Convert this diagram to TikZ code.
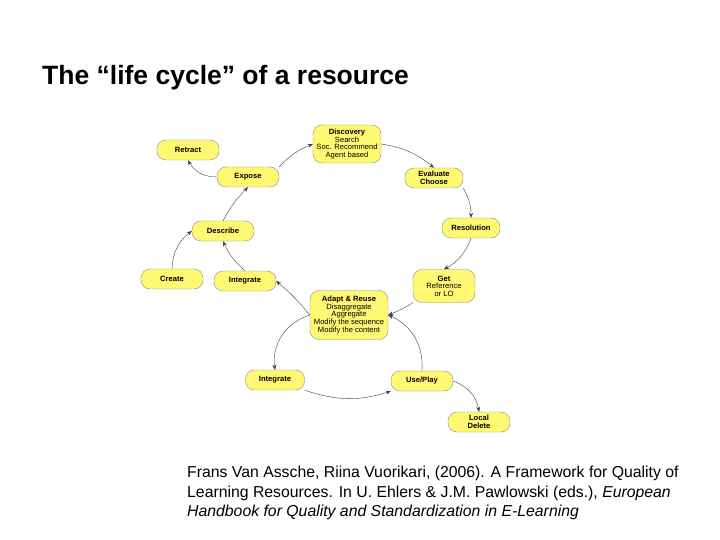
\documentclass[tikz,border=0pt]{standalone}
\usepackage{fontspec}
\setmainfont{Liberation Sans}
\usetikzlibrary{arrows.meta}
\begin{document}
\begin{tikzpicture}[x=1pt,y=-1pt,
  box/.style={draw=black!45,fill=yellow!55,rounded corners=9pt,minimum width=62pt,minimum height=20pt,inner sep=1pt,align=center,font=\fontsize{7.6}{7.6}\selectfont\bfseries},
  sub/.style={font=\fontsize{7.3}{7.3}\selectfont},
  conn/.style={-{Stealth[length=5pt,width=4pt]},black!75,thin}]
\useasboundingbox (0,0) rectangle (720,540);
\fill[white] (0,0) rectangle (720,540);
\node[anchor=west,inner sep=0pt,font=\fontsize{17.5}{20}\selectfont\bfseries] (title) at (42,78) {\fontsize{26.5}{30}\selectfont The “life cycle” of a resource};
\node[anchor=north west,align=left,inner sep=0pt,font=\fontsize{15.8}{19.5}\selectfont] (cite) at (187,466) {Frans Van Assche, Riina Vuorikari, (2006). A Framework for Quality of\\Learning Resources. In U. Ehlers \& J.M. Pawlowski (eds.), \textit{European}\\\textit{Handbook for Quality and Standardization in E-Learning}};
\node[box] (retract) at (188,150) {Retract};
\node[box] (expose) at (248,177) {Expose};
\node[box,minimum width=68pt,minimum height=38pt] (disc) at (347,144) {Discovery\\{\mdseries Search}\\{\mdseries Soc. Recommend}\\{\mdseries Agent based}};
\node[box,minimum width=58pt] (eval) at (434,178) {Evaluate\\Choose};
\node[box,minimum width=58pt] (res) at (471,228) {Resolution};
\node[box,minimum height=33pt] (get) at (444,286) {Get\\{\mdseries Reference}\\{\mdseries or LO}};
\node[box,minimum width=78pt,minimum height=49pt] (adapt) at (349,315) {Adapt \& Reuse\\{\mdseries Disaggregate}\\{\mdseries Aggregate}\\{\mdseries Modify the sequence}\\{\mdseries Modify the content}};
\node[box] (desc) at (223,231) {Describe};
\node[box] (create) at (172,279) {Create};
\node[box] (integ1) at (245,281) {Integrate};
\node[box,minimum width=59pt] (integ2) at (275,380) {Integrate};
\node[box] (use) at (422,381) {Use/Play};
\node[box] (del) at (479,422) {Local\\Delete};
\draw[conn] (expose.north east) to[bend left=12] (disc.west);
\draw[conn] (disc.east) to[bend left=15] (eval.north);
\draw[conn] (eval.south east) to[bend left=15] (res.north);
\draw[conn] (res.south) to[bend left=20] (get.north);
\draw[conn] (get.south west) to[bend left=5] (adapt.east);
\draw[conn] (adapt.west) to[bend right=5] (integ1.east);
\draw[conn] (integ1.north) to[bend left=12] (desc.south);
\draw[conn] (create.north) to[bend left=25] (desc.west);
\draw[conn] (desc.north) to[bend left=8] (expose.south);
\draw[conn] (expose.west) to[bend left=30] (retract.south);
\draw[conn] (adapt.west) to[bend right=40] (integ2.north);
\draw[conn] (integ2.south east) to[bend right=18] (use.south west);
\draw[conn] (use.north) to[bend right=35] (adapt.east);
\draw[conn] (use.east) to[bend left=30] (del.north);
\end{tikzpicture}
\end{document}
